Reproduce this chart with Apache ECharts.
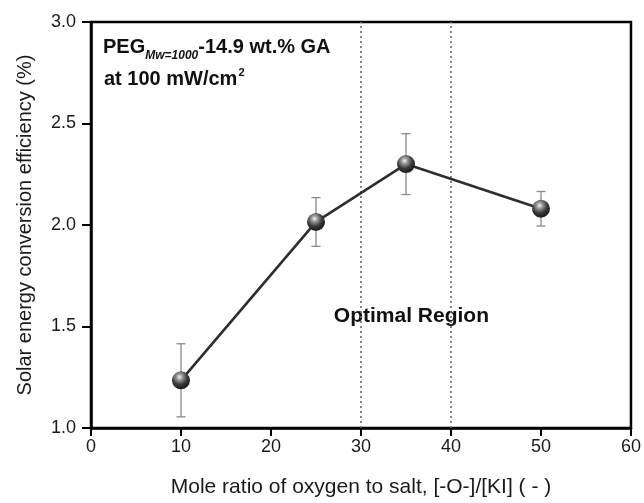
<!DOCTYPE html>
<html>
<head>
<meta charset="utf-8">
<script src="https://cdn.jsdelivr.net/npm/echarts@6/dist/echarts.min.js"></script>
<style>
  html, body { margin: 0; padding: 0; background: #fff; }
  #chart { width: 644px; height: 503px; }
</style>
</head>
<body>
<div id="chart"></div>
<script>
// Mole ratio [-O-]/[KI] and measured efficiency (%) with error half-widths
const moleRatio = [10, 25, 35, 50];
const efficiency = [1.235, 2.015, 2.30, 2.08];
const errorHalf = [0.18, 0.12, 0.15, 0.085];

// Boundaries of the optimal region along x
const regionBounds = [30, 40];

// Axis ranges and tick spacing
const xTicks = { min: 0, max: 60, interval: 10 };
const yTicks = { min: 1.0, max: 3.0, interval: 0.5 };

const FONT = '"Liberation Sans", Arial, Helvetica, sans-serif';

const chart = echarts.init(document.getElementById('chart'), null, { renderer: 'canvas' });

const points = moleRatio.map((x, i) => [x, efficiency[i]]);
const errData = moleRatio.map((x, i) => [x, efficiency[i] - errorHalf[i], efficiency[i] + errorHalf[i]]);

const sphere = {
  type: 'radial', x: 0.42, y: 0.32, r: 0.75,
  colorStops: [
    { offset: 0, color: '#f4f4f4' },
    { offset: 0.22, color: '#9c9c9c' },
    { offset: 0.55, color: '#3c3c3c' },
    { offset: 0.85, color: '#1c1c1c' },
    { offset: 1, color: '#555555' }
  ]
};

chart.setOption({
  animation: false,
  backgroundColor: '#ffffff',
  grid: {
    left: 91, right: 12, top: 22, bottom: 72,
    show: true, borderColor: '#000', borderWidth: 2.5, backgroundColor: 'transparent'
  },
  xAxis: {
    type: 'value', min: xTicks.min, max: xTicks.max, interval: xTicks.interval,
    name: 'Mole ratio of oxygen to salt, [-O-]/[KI] ( - )',
    nameLocation: 'middle', nameGap: 49,
    nameTextStyle: { fontFamily: FONT, fontSize: 21, color: '#1a1a1a' },
    axisLine: { show: true, onZero: false, lineStyle: { color: '#000', width: 2.5 } },
    axisTick: { show: true, inside: false, length: 8, lineStyle: { color: '#000', width: 2 } },
    axisLabel: { fontFamily: FONT, fontSize: 18, color: '#1a1a1a', margin: 10 },
    splitLine: { show: false }
  },
  yAxis: {
    type: 'value', min: yTicks.min, max: yTicks.max, interval: yTicks.interval,
    name: 'Solar energy conversion efficiency (%)',
    nameLocation: 'middle', nameGap: 56,
    nameTextStyle: { fontFamily: FONT, fontSize: 20, color: '#1a1a1a' },
    axisLine: { show: true, onZero: false, lineStyle: { color: '#000', width: 2.5 } },
    axisTick: { show: true, inside: false, length: 9, lineStyle: { color: '#000', width: 2 } },
    axisLabel: {
      fontFamily: FONT, fontSize: 18, color: '#1a1a1a', margin: 15,
      formatter: v => v.toFixed(1)
    },
    splitLine: { show: false }
  },
  series: [
    {
      // dotted boundaries of the optimal region
      type: 'line', data: [], silent: true,
      markLine: {
        silent: true, symbol: ['none', 'none'], label: { show: false },
        lineStyle: { type: [2, 3], color: '#666', width: 1.6 },
        data: regionBounds.map(v => ({ xAxis: v }))
      }
    },
    {
      // error bars with caps
      type: 'custom', z: 3,
      data: errData,
      renderItem: function (params, api) {
        const x = api.value(0);
        const lo = api.coord([x, api.value(1)]);
        const hi = api.coord([x, api.value(2)]);
        const cap = 4.5;
        const style = { stroke: '#8a8a8a', lineWidth: 1.3 };
        return {
          type: 'group',
          children: [
            { type: 'line', shape: { x1: lo[0], y1: lo[1], x2: hi[0], y2: hi[1] }, style },
            { type: 'line', shape: { x1: lo[0] - cap, y1: lo[1], x2: lo[0] + cap, y2: lo[1] }, style },
            { type: 'line', shape: { x1: hi[0] - cap, y1: hi[1], x2: hi[0] + cap, y2: hi[1] }, style }
          ]
        };
      }
    },
    {
      type: 'line', z: 5,
      data: points,
      symbol: 'circle', symbolSize: 18,
      lineStyle: { color: '#2e2e2e', width: 2.6 },
      itemStyle: { color: sphere, borderWidth: 0 }
    }
  ]
});

// Annotation texts, anchored to data coordinates
function place() {
  const regionPos = chart.convertToPixel({ gridIndex: 0 }, [35.6, 1.55]);
  const corner = chart.convertToPixel({ gridIndex: 0 }, [0, 3.0]);
  chart.setOption({
    graphic: [
      {
        type: 'text', left: corner[0] + 12, top: corner[1] + 15,
        style: {
          text: '{b|PEG}{s|Mw=1000}{b|-14.9 wt.% GA}',
          rich: {
            b: { fontFamily: FONT, fontSize: 20, fontWeight: 'bold', fill: '#111', verticalAlign: 'bottom', lineHeight: 22 },
            s: { fontFamily: FONT, fontSize: 12, fontWeight: 'bold', fontStyle: 'italic', fill: '#111', verticalAlign: 'bottom', padding: [0, 0, -5, 0], lineHeight: 22 }
          }
        }
      },
      {
        type: 'text', left: corner[0] + 13, top: corner[1] + 45,
        style: {
          text: '{b|at 100 mW/cm}{p|2}',
          rich: {
            b: { fontFamily: FONT, fontSize: 20, fontWeight: 'bold', fill: '#111', verticalAlign: 'bottom', lineHeight: 22 },
            p: { fontFamily: FONT, fontSize: 11, fontWeight: 'bold', fill: '#111', verticalAlign: 'top', padding: [0, 0, 10, 1], lineHeight: 22 }
          }
        }
      },
      {
        type: 'text', x: regionPos[0], y: regionPos[1],
        style: {
          text: 'Optimal Region', fontFamily: FONT, fontSize: 21, fontWeight: 'bold',
          fill: '#111', align: 'center', verticalAlign: 'middle'
        }
      }
    ]
  });
}
place();
</script>
</body>
</html>
